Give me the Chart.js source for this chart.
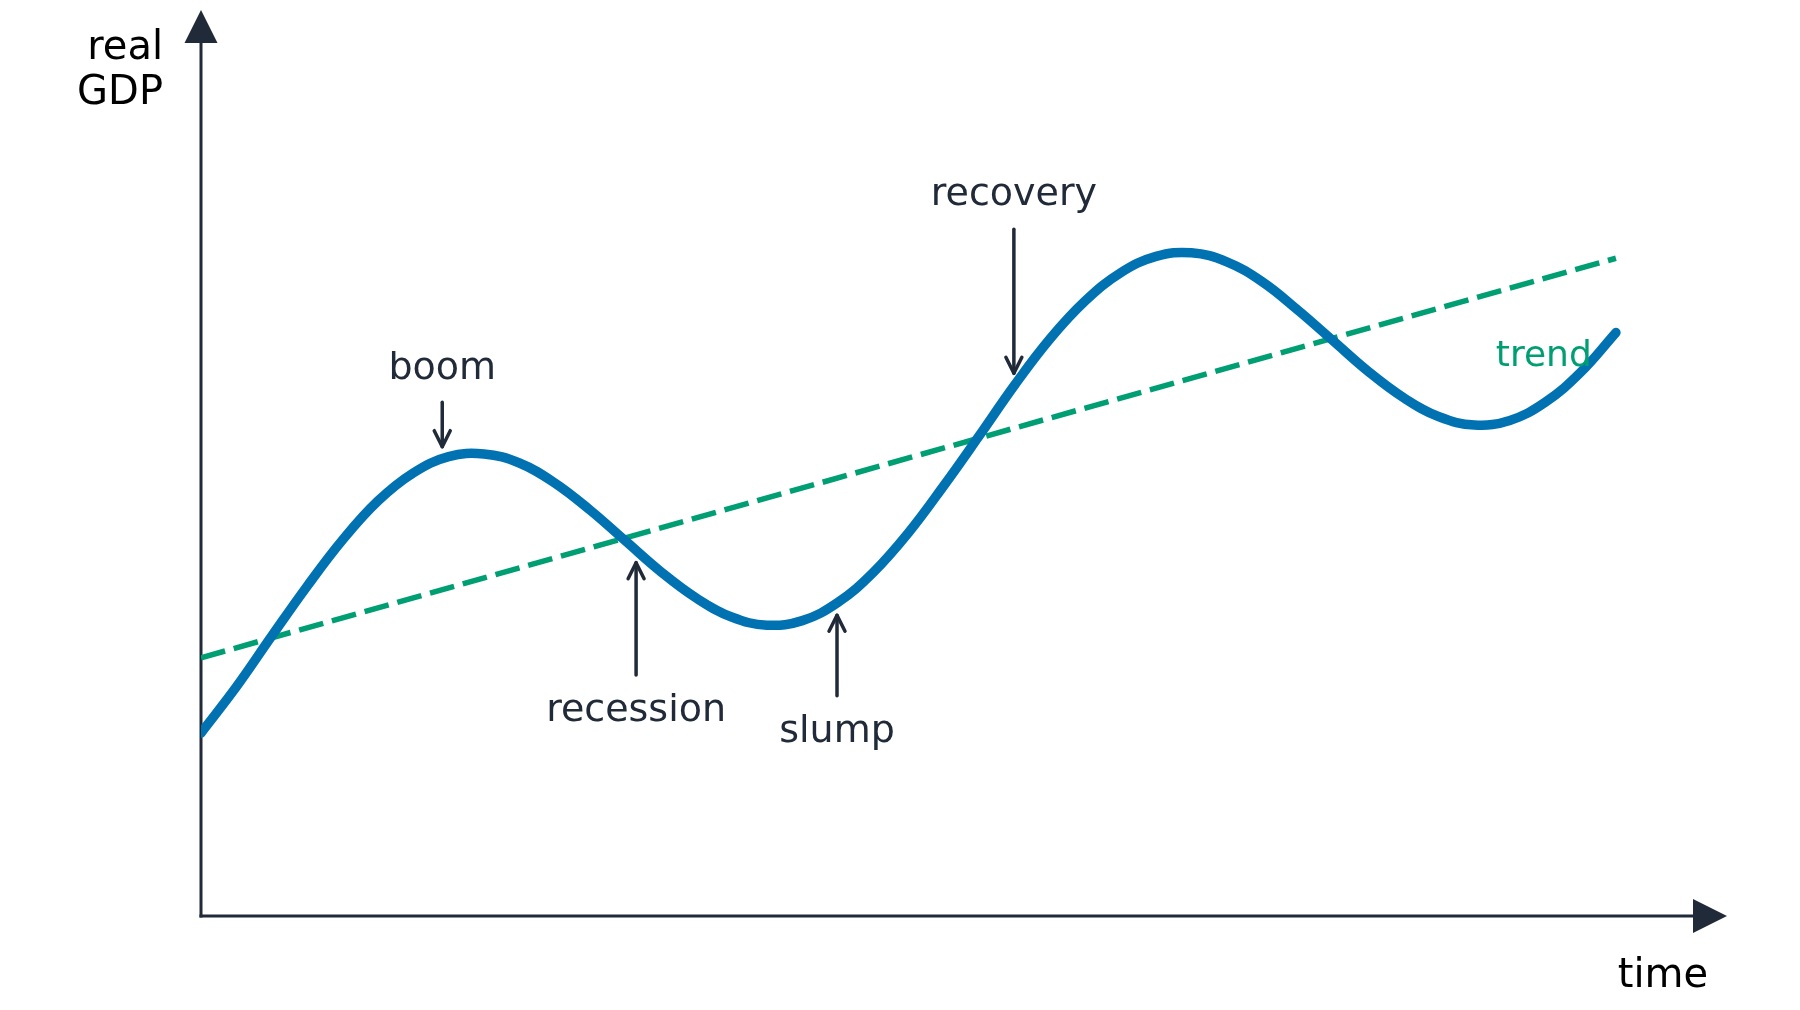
<!DOCTYPE html>
<html>
<head>
<meta charset="utf-8">
<script src="https://cdn.jsdelivr.net/npm/chart.js@4.4.1/dist/chart.umd.min.js"></script>
<style>
  html, body { margin: 0; padding: 0; background: #ffffff; }
  #wrap { width: 1800px; height: 1010px; position: relative; }
</style>
</head>
<body>
<div id="wrap"><canvas id="c" width="1800" height="1010"></canvas></div>
<script>
// ---- data ----
const timeValues = [0, 0.5, 1, 1.5, 2, 2.5, 3, 3.5, 4, 4.5, 5, 5.5, 6, 6.5, 7, 7.5, 8, 8.5, 9, 9.5, 10,
                    10.5, 11, 11.5, 12, 12.5, 13, 13.5, 14, 14.5, 15, 15.5, 16, 16.5, 17, 17.5, 18, 18.5, 19, 19.5, 20];
const realGdp = [20.2, 25.3, 30.9, 36.4, 41.5, 45.8, 48.9, 50.7, 51.0, 50.0, 47.8, 44.8, 41.4, 38.0, 35.1, 33.0, 32.1, 32.6, 34.6, 37.9, 42.3,
                 47.5, 53.0, 58.6, 63.7, 67.9, 71.0, 72.8, 73.2, 72.2, 70.0, 66.9, 63.5, 60.1, 57.2, 55.1, 54.2, 54.7, 56.7, 60.0, 64.4];
const trendTime = [0, 20];
const trendValues = [28.5, 72.6];

const annotationLabels = ["boom", "recession", "slump", "recovery"];
const annotationTextX = [3.41, 6.15, 8.99, 11.49];
const annotationTextY = [59.3, 21.5, 19.2, 78.5];
const arrowX = [3.41, 6.15, 8.99, 11.49];
const arrowFromY = [56.7, 26.6, 24.3, 75.8];
const arrowToY = [51.8, 39.0, 33.2, 59.9];
const trendLabel = "trend";
const trendLabelX = 18.98;
const trendLabelY = 60.7;
const yAxisLabel = ["real", "GDP"];
const xAxisLabel = "time";

// ---- style ----
const AXIS_COLOR = "#212a39";
const TEXT_COLOR = "#212a39";
const BLUE = "#0072b2";
const GREEN = "#009e73";
const FONT = "DejaVu Sans";

const gdpPoints = timeValues.map((t, i) => ({ x: t, y: realGdp[i] }));
const trendPoints = trendTime.map((t, i) => ({ x: t, y: trendValues[i] }));

const decorPlugin = {
  id: 'decor',
  beforeDatasetsDraw(chart) {
    const ctx = chart.ctx;
    const a = chart.chartArea;
    ctx.save();
    ctx.strokeStyle = AXIS_COLOR;
    ctx.fillStyle = AXIS_COLOR;
    ctx.lineWidth = 3;
    ctx.lineCap = 'butt';
    ctx.beginPath();
    ctx.moveTo(a.left, a.bottom + 1.5);
    ctx.lineTo(a.left, a.top + 30);
    ctx.stroke();
    ctx.beginPath();
    ctx.moveTo(a.left - 1.5, a.bottom);
    ctx.lineTo(a.right - 30, a.bottom);
    ctx.stroke();
    ctx.beginPath();
    ctx.moveTo(a.left, a.top);
    ctx.lineTo(a.left - 16.5, a.top + 33);
    ctx.lineTo(a.left + 16.5, a.top + 33);
    ctx.closePath();
    ctx.fill();
    ctx.beginPath();
    ctx.moveTo(a.right, a.bottom);
    ctx.lineTo(a.right - 34, a.bottom - 17);
    ctx.lineTo(a.right - 34, a.bottom + 17);
    ctx.closePath();
    ctx.fill();
    ctx.restore();
  },
  afterDatasetsDraw(chart) {
    const ctx = chart.ctx;
    const a = chart.chartArea;
    const xs = chart.scales.x, ys = chart.scales.y;
    ctx.save();
    ctx.strokeStyle = AXIS_COLOR;
    ctx.lineWidth = 3.5;
    ctx.lineCap = 'round';
    ctx.lineJoin = 'round';
    for (let i = 0; i < annotationLabels.length; i++) {
      const px = xs.getPixelForValue(arrowX[i]);
      const y0 = ys.getPixelForValue(arrowFromY[i]);
      const y1 = ys.getPixelForValue(arrowToY[i]);
      const dir = y1 > y0 ? 1 : -1;
      ctx.beginPath();
      ctx.moveTo(px, y0);
      ctx.lineTo(px, y1);
      ctx.stroke();
      ctx.beginPath();
      ctx.moveTo(px - 8, y1 - dir * 16);
      ctx.lineTo(px, y1);
      ctx.lineTo(px + 8, y1 - dir * 16);
      ctx.stroke();
    }
    ctx.fillStyle = TEXT_COLOR;
    ctx.font = "38px '" + FONT + "'";
    ctx.textAlign = 'center';
    ctx.textBaseline = 'alphabetic';
    for (let i = 0; i < annotationLabels.length; i++) {
      ctx.fillText(annotationLabels[i], xs.getPixelForValue(annotationTextX[i]), ys.getPixelForValue(annotationTextY[i]));
    }
    ctx.fillStyle = GREEN;
    ctx.font = "36px '" + FONT + "'";
    ctx.fillText(trendLabel, xs.getPixelForValue(trendLabelX), ys.getPixelForValue(trendLabelY));
    ctx.fillStyle = "#000000";
    ctx.font = "40px '" + FONT + "'";
    ctx.textAlign = 'right';
    ctx.fillText(yAxisLabel[0], a.left - 38, a.top + 49);
    ctx.fillText(yAxisLabel[1], a.left - 38, a.top + 94);
    ctx.textAlign = 'center';
    ctx.fillText(xAxisLabel, a.right - 64, a.bottom + 71);
    ctx.restore();
  }
};

new Chart(document.getElementById('c'), {
  type: 'line',
  data: {
    datasets: [
      {
        label: 'real GDP',
        data: gdpPoints,
        borderColor: BLUE,
        borderWidth: 9.5,
        borderCapStyle: 'round',
        borderJoinStyle: 'round',
        pointRadius: 0,
        tension: 0.4,
        fill: false,
        clip: { left: 0, top: 10, right: 10, bottom: 10 }
      },
      {
        label: 'trend',
        data: trendPoints,
        borderColor: GREEN,
        borderWidth: 5.5,
        borderDash: [25, 9],
        borderCapStyle: 'butt',
        pointRadius: 0,
        tension: 0,
        fill: false,
        clip: { left: 0, top: 10, right: 10, bottom: 10 }
      }
    ]
  },
  options: {
    responsive: false,
    animation: false,
    devicePixelRatio: 1,
    layout: { padding: { left: 201, right: 73, top: 10, bottom: 94 } },
    plugins: { legend: { display: false }, tooltip: { enabled: false } },
    scales: {
      x: { type: 'linear', display: false, min: 0, max: 21.57 },
      y: { type: 'linear', display: false, min: 0, max: 100 }
    }
  },
  plugins: [decorPlugin]
});
</script>
</body>
</html>
